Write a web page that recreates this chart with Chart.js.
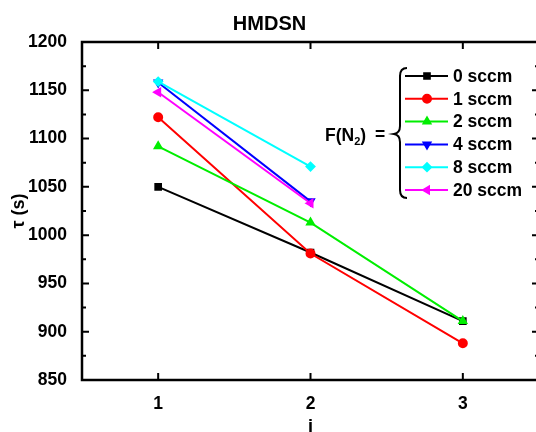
<!DOCTYPE html>
<html>
<head>
<meta charset="utf-8">
<script src="https://cdn.jsdelivr.net/npm/chart.js@4/dist/chart.umd.min.js"></script>
<style>
  html, body { margin: 0; padding: 0; background: #fff; overflow: hidden; }
  canvas { display: block; }
</style>
</head>
<body>
<canvas id="tauChart" width="548" height="432" style="width:548px;height:432px"></canvas>
<script>
// data
const xValues = [1, 2, 3];
const seriesLabels = ["0 sccm", "1 sccm", "2 sccm", "4 sccm", "8 sccm", "20 sccm"];
const sccm0 = [1050, 982, 911];
const sccm1 = [1122, 981, 888];
const sccm2 = [1092, 1013, 911];
const sccm4 = [1158, 1035];
const sccm8 = [1159, 1071];
const sccm20 = [1148, 1033];
const yTicks = [850, 900, 950, 1000, 1050, 1100, 1150, 1200];

const series = [sccm0, sccm1, sccm2, sccm4, sccm8, sccm20];
const colors = ["#000000", "#ff0000", "#00ee00", "#0000ff", "#00ffff", "#ff00ff"];
const styles = ["rect", "circle", "triangle", "triangle", "rectRot", "triangle"];
const rotations = [0, 0, 0, 180, 0, 270];

const FONT = "'Liberation Sans', Arial, sans-serif";
const ctx = document.getElementById("tauChart").getContext("2d");

const datasets = series.map((vals, i) => ({
  label: seriesLabels[i],
  data: vals.map((v, j) => ({ x: xValues[j], y: v })),
  borderColor: colors[i],
  backgroundColor: colors[i],
  pointBackgroundColor: colors[i],
  pointBorderColor: colors[i],
  pointStyle: styles[i],
  rotation: rotations[i],
  pointRadius: 4,
  borderWidth: 2,
  tension: 0,
  order: series.length - i
}));

// box, inward ticks, custom legend with brace
const framePlugin = {
  id: "frame",
  afterDraw(chart) {
    const c = chart.ctx;
    const a = chart.chartArea;
    const xs = chart.scales.x, ys = chart.scales.y;
    c.save();
    c.strokeStyle = "#000";
    c.lineWidth = 2.5;
    c.strokeRect(a.left, a.top, a.right - a.left, a.bottom - a.top);
    c.lineWidth = 2;
    c.beginPath();
    yTicks.forEach(v => {
      const y = ys.getPixelForValue(v);
      c.moveTo(a.left, y); c.lineTo(a.left + 7, y);
      c.moveTo(a.right, y); c.lineTo(a.right - 7, y);
      if (v < 1200) {
        const ym = ys.getPixelForValue(v + 25);
        c.moveTo(a.left, ym); c.lineTo(a.left + 4, ym);
        c.moveTo(a.right, ym); c.lineTo(a.right - 4, ym);
      }
    });
    xValues.forEach(v => {
      const x = xs.getPixelForValue(v);
      c.moveTo(x, a.bottom); c.lineTo(x, a.bottom - 7);
      c.moveTo(x, a.top); c.lineTo(x, a.top + 7);
    });
    c.stroke();

    // legend
    const y0 = 76, dy = 22.8;
    c.font = "bold 17.5px " + FONT;
    c.textBaseline = "middle";
    c.textAlign = "left";
    chart.data.datasets.forEach((ds, i) => {
      const y = y0 + i * dy;
      c.strokeStyle = ds.borderColor;
      c.lineWidth = 2;
      c.beginPath();
      c.moveTo(405, y); c.lineTo(448, y);
      c.stroke();
      c.fillStyle = ds.borderColor;
      Chart.helpers.drawPoint(c, {
        pointStyle: ds.pointStyle, rotation: ds.rotation,
        radius: 4, borderWidth: 1
      }, 427, y);
      c.fillStyle = "#000";
      c.fillText(ds.label, 453, y + 1);
    });

    // brace
    c.strokeStyle = "#000";
    c.lineWidth = 2;
    c.beginPath();
    c.moveTo(407, 68);
    c.quadraticCurveTo(400, 68, 400, 76);
    c.lineTo(400, 126);
    c.quadraticCurveTo(400, 133, 394, 134);
    c.quadraticCurveTo(400, 135, 400, 142);
    c.lineTo(400, 190);
    c.quadraticCurveTo(400, 198, 407, 198);
    c.stroke();

    // F(N2) =
    c.fillStyle = "#000";
    c.font = "bold 17.5px " + FONT;
    c.fillText("F(N", 325, 136);
    const w1 = c.measureText("F(N").width;
    c.font = "bold 11px " + FONT;
    c.fillText("2", 325 + w1, 142);
    const w2 = c.measureText("2").width;
    c.font = "bold 17.5px " + FONT;
    c.fillText(")", 325 + w1 + w2, 136);
    c.fillText("=", 375, 135);
    c.restore();
  }
};

new Chart(ctx, {
  type: "line",
  data: { datasets },
  options: {
    responsive: false,
    animation: false,
    events: [],
    layout: { padding: { left: 0, right: 9, top: 0, bottom: 0 } },
    plugins: {
      legend: { display: false },
      tooltip: { enabled: false },
      title: {
        display: true,
        text: "HMDSN",
        color: "#000",
        font: { family: FONT, size: 20, weight: "bold", lineHeight: 1.2 },
        padding: { top: 12, bottom: 6 }
      }
    },
    scales: {
      x: {
        type: "linear",
        min: 0.5,
        max: 3.5,
        grid: { display: false },
        border: { display: false },
        afterBuildTicks: s => { s.ticks = xValues.map(v => ({ value: v })); },
        afterFit: s => { s.height = 52; },
        ticks: {
          color: "#000",
          padding: 6,
          maxRotation: 0,
          callback: v => String(v),
          font: { family: FONT, size: 17.5, weight: "bold" }
        },
        title: {
          display: true,
          text: "i",
          color: "#000",
          padding: 0,
          font: { family: FONT, size: 18, weight: "bold", lineHeight: 0.6 }
        }
      },
      y: {
        min: 850,
        max: 1200,
        grid: { display: false },
        border: { display: false },
        afterBuildTicks: s => { s.ticks = yTicks.map(v => ({ value: v })); },
        afterFit: s => { s.width = 82; },
        ticks: {
          color: "#000",
          padding: 7,
          callback: v => String(v),
          font: { family: FONT, size: 17.5, weight: "bold" }
        },
        title: {
          display: true,
          text: "τ (s)",
          color: "#000",
          padding: { top: 8 },
          font: { family: FONT, size: 18, weight: "bold", lineHeight: 1.2 }
        }
      }
    }
  },
  plugins: [framePlugin]
});
</script>
</body>
</html>
